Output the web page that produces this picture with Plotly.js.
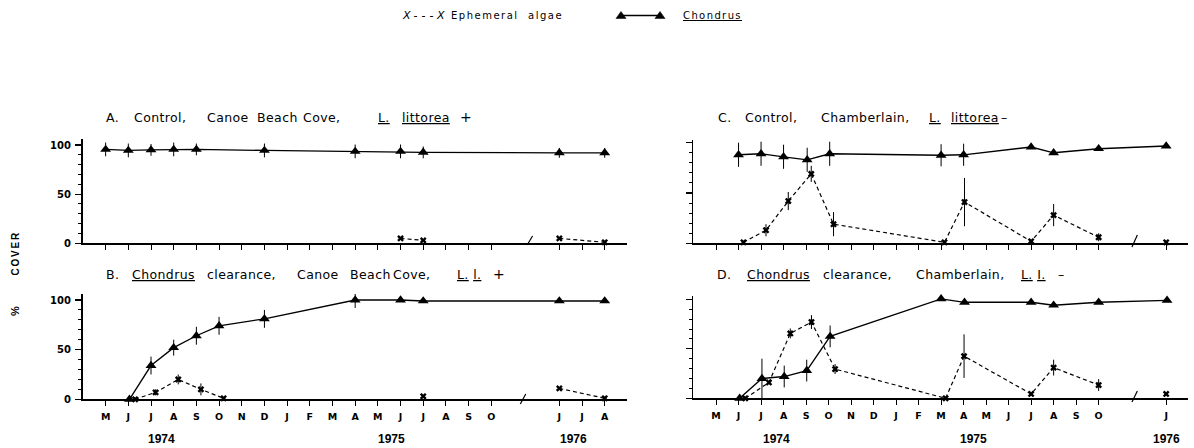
<!DOCTYPE html>
<html>
<head>
<meta charset="utf-8">
<script src="https://cdn.plot.ly/plotly-3.0.1.min.js"></script>
<style>html,body{margin:0;padding:0;background:#fff;}#chart{width:1194px;height:448px;}</style>
</head>
<body>
<div id="chart"></div>
<script>
// ---- month axis (index 0 = May 1974; Nov 1975 - May 1976 omitted by the axis break) ----
const monthIdxLeft = [0,1,2,3,4,5,6,7,8,9,10,11,12,13,14,15,16,17,20,21,22];
const monthLblLeft = ["M","J","J","A","S","O","N","D","J","F","M","A","M","J","J","A","S","O","J","J","A"];
const monthIdxRight = [0,1,2,3,4,5,6,7,8,9,10,11,12,13,14,15,16,17,20];
const monthLblRight = ["M","J","J","A","S","O","N","D","J","F","M","A","M","J","J","A","S","O","J"];
const yearLbl = ["1974","1975","1976"];
const yearIdxLeft = [2.47,12.62,20.64];
const yearIdxRight = [2.67,11.46,20.02];

// ---- A. Control, Canoe Beach Cove ----
const chondA_x = [0,1,2,3,4,7,11,13,14,20,22];
const chondA_y = [95.5,94.5,95,95.5,95.5,94.5,93.5,93.5,92.5,92,92];
const chondA_err = [7,7,6,7,6,7,7,7,6,5,5];
const ephA_x = [13,14,17,20,22];
const ephA_y = [5,3,null,5,1];

// ---- B. Chondrus clearance, Canoe Beach Cove ----
const chondB_x = [1.05,2,3,4,5,7,11,13,14,20,22];
const chondB_y = [0,34,52,64,74,81,100,100,99,99,99];
const chondB_err = [0,9,8,9,9,9,8,0,0,0,0];
const ephB_x = [1.3,2.2,3.2,4.2,5.2,9,14,17,20,22];
const ephB_y = [0,7,20,10,1,null,3,null,11,1];
const ephB_err = [0,3,5,6,0,0,0,0,0,0];

// ---- C. Control, Chamberlain ----
const chondC_x = [1,2,3,4.05,5.05,10,11,14,15,17,20];
const chondC_y = [88,89,86,83,89,87.5,88,95.7,90,94,96.7];
const chondC_err = [12,12,12,12,12,11,11,0,0,0,0];
const ephC_x = [1.22,2.22,3.21,4.23,5.22,10.15,11.04,14,15,17,18.5,20];
const ephC_y = [1,13,42,69,19,1,41,2,28,6,null,1];
const ephC_err = [0,6,9,8,12,0,24,0,11,4,0,0];

// ---- D. Chondrus clearance, Chamberlain ----
const chondD_x = [1.05,2.04,3.03,4.03,5.07,10,11.04,14,15,17,20.04];
const chondD_y = [0,20,22,28,62.5,100.5,97,97,94,97,99];
const chondD_err = [0,20,11,11,11,0,0,0,0,0,0];
const ephD_x = [1.3,2.35,3.3,4.24,5.29,10.2,11.02,14,15,17,18.5,20];
const ephD_y = [0,16,65.5,77,29.5,0,42.6,4.4,31,13.4,null,4.4];
const ephD_err = [0,0,5,7,5,0,22,0,8,6,0,0];

const W = 1194, H = 448;
const px = x => x / W;
const py = y => 1 - y / H;

function chond(x, y, err, xa, ya) {
  return {x: x, y: y, xaxis: xa, yaxis: ya, type: 'scatter', mode: 'lines+markers',
    name: 'Chondrus', cliponaxis: false,
    line: {color: '#000', width: 1.3},
    marker: {symbol: 'triangle-up', size: 9.5, color: '#000'},
    error_y: {type: 'data', array: err, visible: true, color: '#000', thickness: 1, width: 0}};
}
function eph(x, y, err, xa, ya) {
  const t = {x: x, y: y, xaxis: xa, yaxis: ya, type: 'scatter', mode: 'lines+markers',
    name: 'Ephemeral algae', cliponaxis: false, connectgaps: false,
    line: {color: '#000', width: 1.2, dash: '4px,3px'},
    marker: {symbol: 'x', size: 6, color: '#000'}};
  if (err) t.error_y = {type: 'data', array: err, visible: true, color: '#000', thickness: 1, width: 0};
  return t;
}

const data = [
  chond(chondA_x, chondA_y, chondA_err, 'x', 'y'),
  eph(ephA_x, ephA_y, null, 'x', 'y'),
  chond(chondB_x, chondB_y, chondB_err, 'x2', 'y2'),
  eph(ephB_x, ephB_y, ephB_err, 'x2', 'y2'),
  chond(chondC_x, chondC_y, chondC_err, 'x3', 'y3'),
  eph(ephC_x, ephC_y, ephC_err, 'x3', 'y3'),
  chond(chondD_x, chondD_y, chondD_err, 'x4', 'y4'),
  eph(ephD_x, ephD_y, ephD_err, 'x4', 'y4')
];

const tickFontX = {family: 'DejaVu Sans', size: 9.5, color: '#000', weight: 'bold'};
const tickFontY = {family: 'DejaVu Sans', size: 10, color: '#000', weight: 'bold'};

function xax(domPx, range, anchor, vals, lbls, showLbl) {
  return {domain: [px(domPx[0]), px(domPx[1])], range: range, anchor: anchor,
    showline: true, linecolor: '#000', linewidth: 1.6, mirror: false,
    showgrid: false, zeroline: false, ticks: 'outside', ticklen: 5, tickwidth: 1, tickcolor: '#000',
    tickmode: 'array', tickvals: vals, ticktext: lbls, showticklabels: showLbl,
    ticklabelstandoff: 3, tickfont: tickFontX, fixedrange: true};
}
function yax(zeroPx, hundredPx, top, anchor, showLbl) {
  const per = (zeroPx - hundredPx) / 100;
  const topPx = zeroPx - top * per;
  return {domain: [py(zeroPx), py(topPx)], range: [0, top], anchor: anchor,
    showline: true, linecolor: '#000', linewidth: 1.6,
    showgrid: false, zeroline: false, ticks: 'outside', ticklen: 6, tickwidth: 1.2, tickcolor: '#000',
    tickmode: 'linear', tick0: 0, dtick: 50, showticklabels: showLbl,
    ticklabelstandoff: 2, tickfont: tickFontY,
    minor: {ticks: 'outside', ticklen: 3, tickwidth: 1, tickcolor: '#000', tick0: 0, dtick: 10, showgrid: false},
    fixedrange: true};
}

const leftDom = [82.5, 626.7], leftRange = [-1.02, 22.97];
const rightDom = [693.3, 1188], rightRange = [-1.01, 20.97];

const titleFont = {family: 'DejaVu Sans', size: 12.5, color: '#000'};
function ann(text, x, y, extra) {
  return Object.assign({text: text, x: px(x), y: py(y), xref: 'paper', yref: 'paper',
    xanchor: 'left', yanchor: 'middle', showarrow: false, font: titleFont, borderpad: 0}, extra || {});
}
const sp = s => '<span style="letter-spacing:0.4px">' + s + '</span>';
const plusFont = {font: {family: 'DejaVu Sans', size: 14, color: '#000'}};

const annotations = [
  // Panel A title
  ann(sp('A.'), 105, 117), ann(sp('Control,'), 133, 117), ann(sp('Canoe'), 206, 117),
  ann(sp('Beach'), 255.5, 117), ann(sp('Cove,'), 302, 117),
  ann(sp('<u>L.</u>'), 377, 117), ann(sp('<u>littorea</u>'), 401, 117), ann('+', 459, 117, plusFont),
  // Panel B title
  ann(sp('B.'), 104.5, 274), ann(sp('<u>Chondrus</u>'), 130.5, 274), ann(sp('clearance,'), 205.5, 274),
  ann(sp('Canoe'), 295.5, 274), ann(sp('Beach'), 348.5, 274), ann(sp('Cove,'), 392, 274),
  ann(sp('<u>L.</u>&nbsp;<u>l.</u>'), 456, 274), ann('+', 492, 274, plusFont),
  // Panel C title
  ann(sp('C.'), 717, 117), ann(sp('Control,'), 744, 117), ann(sp('Chamberlain,'), 820, 117),
  ann(sp('<u>L.</u>'), 928, 117), ann(sp('<u>littorea</u>'), 950, 117), ann('–', 1000, 117),
  // Panel D title
  ann(sp('D.'), 716, 274), ann(sp('<u>Chondrus</u>'), 746, 274), ann(sp('clearance,'), 822, 274),
  ann(sp('Chamberlain,'), 915, 274), ann(sp('<u>L.</u>&nbsp;<u>I.</u>'), 1020, 274), ann('–', 1057, 274),
  // legend
  ann('<span style="letter-spacing:4px"><i>X---X</i></span>', 401, 15, {font: {family: 'DejaVu Sans', size: 11, color: '#000'}}),
  ann('<span style="letter-spacing:1.5px">Ephemeral</span>', 450, 15, {font: {family: 'DejaVu Sans', size: 10, color: '#000'}}),
  ann('<span style="letter-spacing:1.5px">algae</span>', 526.5, 15, {font: {family: 'DejaVu Sans', size: 10, color: '#000'}}),
  ann('<span style="letter-spacing:1.4px"><u>Chondrus</u></span>', 681.5, 15, {font: {family: 'DejaVu Sans', size: 10, color: '#000'}}),
  // y-axis title
  ann('<span style="letter-spacing:1.8px">COVER</span>', 15, 253.5, {xanchor: 'center', textangle: -90, font: {family: 'Liberation Sans', size: 10, color: '#000', weight: 'bold'}}),
  ann('%', 15, 311, {xanchor: 'center', textangle: -90, font: {family: 'Liberation Sans', size: 11, color: '#000', weight: 'bold'}})
];
// year labels under each bottom panel
const yearFont = {family: 'Liberation Sans', size: 12, color: '#000', weight: 'bold'};
yearLbl.forEach((t, i) => {
  annotations.push({text: t, x: yearIdxLeft[i], y: py(439), xref: 'x2', yref: 'paper', xanchor: 'center', yanchor: 'middle', showarrow: false, font: yearFont});
  annotations.push({text: t, x: yearIdxRight[i], y: py(439), xref: 'x4', yref: 'paper', xanchor: 'center', yanchor: 'middle', showarrow: false, font: yearFont});
});

// legend triangles & line, axis-break slashes
function tri(cx, cy) {
  const r = 4.6;
  return {type: 'path', xref: 'paper', yref: 'paper', fillcolor: '#000', line: {color: '#000', width: 0.5},
    path: 'M' + px(cx - r * 1.1) + ',' + py(cy + r * 0.55) + ' L' + px(cx + r * 1.1) + ',' + py(cy + r * 0.55) + ' L' + px(cx) + ',' + py(cy - r) + ' Z'};
}
function slash(xref, idx, yBotPx, yTopPx) {
  return {type: 'line', xref: xref, yref: 'paper', x0: idx - 0.12, x1: idx + 0.12, y0: py(yBotPx), y1: py(yTopPx),
    line: {color: '#000', width: 1.2}};
}
const shapes = [
  {type: 'line', xref: 'paper', yref: 'paper', x0: px(622), x1: px(660), y0: py(15.5), y1: py(15.5), line: {color: '#000', width: 1.3}},
  tri(621, 16), tri(660, 16),
  slash('x', 18.7, 245, 236),
  slash('x2', 18.4, 404, 394),
  slash('x3', 18.6, 247, 235),
  slash('x4', 18.6, 402, 391)
];

const layout = {
  width: W, height: H, margin: {l: 0, r: 0, t: 0, b: 0},
  paper_bgcolor: '#fff', plot_bgcolor: 'rgba(0,0,0,0)', showlegend: false,
  font: {family: 'DejaVu Sans', color: '#000'},
  xaxis: xax(leftDom, leftRange, 'y', monthIdxLeft, monthLblLeft, false),
  yaxis: yax(243.3, 145, 106, 'x', true),
  xaxis2: xax(leftDom, leftRange, 'y2', monthIdxLeft, monthLblLeft, true),
  yaxis2: yax(399.3, 300, 106, 'x2', true),
  xaxis3: xax(rightDom, rightRange, 'y3', monthIdxRight, monthLblRight, false),
  yaxis3: yax(243.3, 142.7, 103, 'x3', false),
  xaxis4: xax(rightDom, rightRange, 'y4', monthIdxRight, monthLblRight, true),
  yaxis4: yax(398.3, 299.3, 103, 'x4', false),
  annotations: annotations,
  shapes: shapes
};

Plotly.newPlot('chart', data, layout, {displayModeBar: false, staticPlot: true});
</script>
</body>
</html>
